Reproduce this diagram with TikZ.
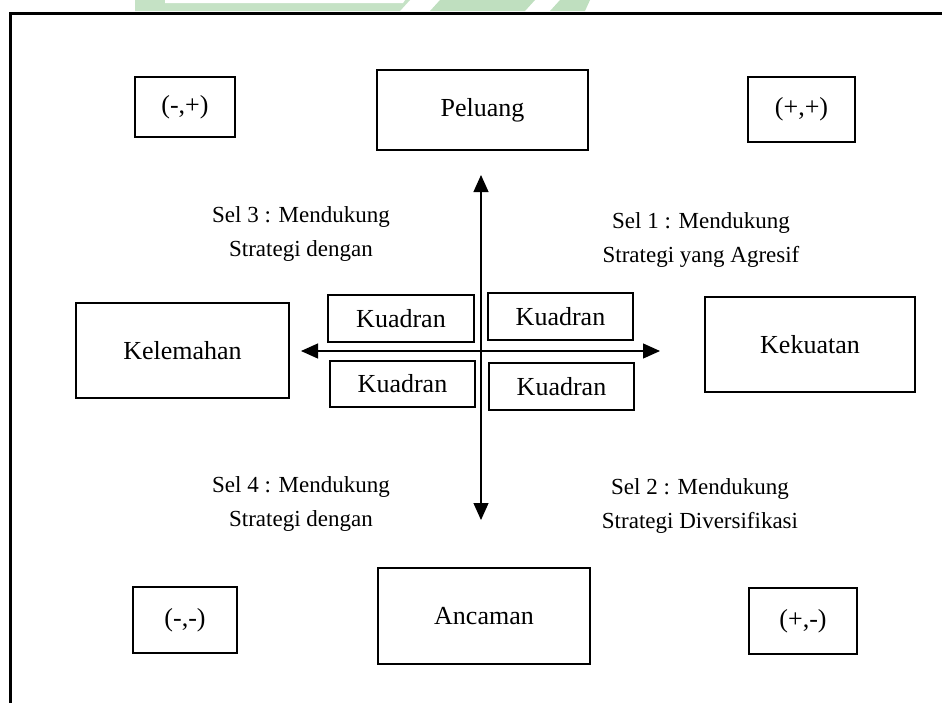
\documentclass[tikz,border=0pt]{standalone}
\usepackage{fontspec}
\setmainfont{Liberation Serif}
\usetikzlibrary{arrows.meta}
\begin{document}
\begin{tikzpicture}[x=1pt,y=-1pt,
  box/.style={draw=black,line width=2pt,inner sep=0pt,font=\fontsize{26}{30}\selectfont},
  seltext/.style={align=center,inner sep=0pt,font=\fontsize{23}{34}\selectfont},
  axis/.style={line width=1.2pt,-{Triangle[length=17pt,width=15pt]}}]
\useasboundingbox (0,0) rectangle (942,702);
% watermark
\fill[green!50!black!25!white,fill opacity=0.9] (135,0) -- (410,0) -- (400,11) -- (135,11) -- cycle;
\fill[white] (165,0) -- (405,0) -- (403,3) -- (165,3) -- cycle;
\fill[green!50!black!25!white] (440,0) -- (535,0) -- (525,11) -- (430,11) -- cycle;
\fill[green!50!black!25!white] (560,0) -- (590,0) -- (585,11) -- (550,11) -- cycle;
% frame
\draw[line width=3pt] (10,720) -- (10,13) -- (960,13);
% boxes
\node[box,minimum width=100pt,minimum height=60pt] (mp) at (185,107) {(-,+)};
\node[box,minimum width=211pt,minimum height=80pt] (peluang) at (482.5,110) {Peluang};
\node[box,minimum width=107pt,minimum height=65pt] (pp) at (801.5,109.5) {(+,+)};
\node[box,minimum width=213pt,minimum height=95pt] (kelemahan) at (182.5,350.5) {Kelemahan};
\node[box,minimum width=210pt,minimum height=95pt] (kekuatan) at (810,344.5) {Kekuatan};
\node[box,minimum width=146pt,minimum height=47pt] (k1) at (401,318.5) {Kuadran};
\node[box,minimum width=145pt,minimum height=47pt] (k2) at (560.5,316.5) {Kuadran};
\node[box,minimum width=145pt,minimum height=46pt] (k3) at (402.5,384) {Kuadran};
\node[box,minimum width=145pt,minimum height=47pt] (k4) at (561.5,386.5) {Kuadran};
\node[box,minimum width=212pt,minimum height=96pt] (ancaman) at (484,616) {Ancaman};
\node[box,minimum width=104pt,minimum height=66pt] (mm) at (185,620) {(-,-)};
\node[box,minimum width=108pt,minimum height=66pt] (pm) at (803,621) {(+,-)};
% texts
\node[seltext] (s3) at (301,233.5) {Sel 3 : Mendukung\\Strategi dengan};
\node[seltext] (s1) at (701,240) {Sel 1 : Mendukung\\Strategi yang Agresif};
\node[seltext] (s4) at (301,504) {Sel 4 : Mendukung\\Strategi dengan};
\node[seltext] (s2) at (700,506) {Sel 2 : Mendukung\\Strategi Diversifikasi};
% axes
\coordinate (c) at (481,351);
\coordinate (top) at (481,175);
\coordinate (bot) at (481,520);
\coordinate (left) at (301,351);
\coordinate (right) at (660,351);
\draw[axis] (c) -- (top);
\draw[axis] (c) -- (bot);
\draw[axis] (c) -- (left);
\draw[axis] (c) -- (right);
\end{tikzpicture}
\end{document}
